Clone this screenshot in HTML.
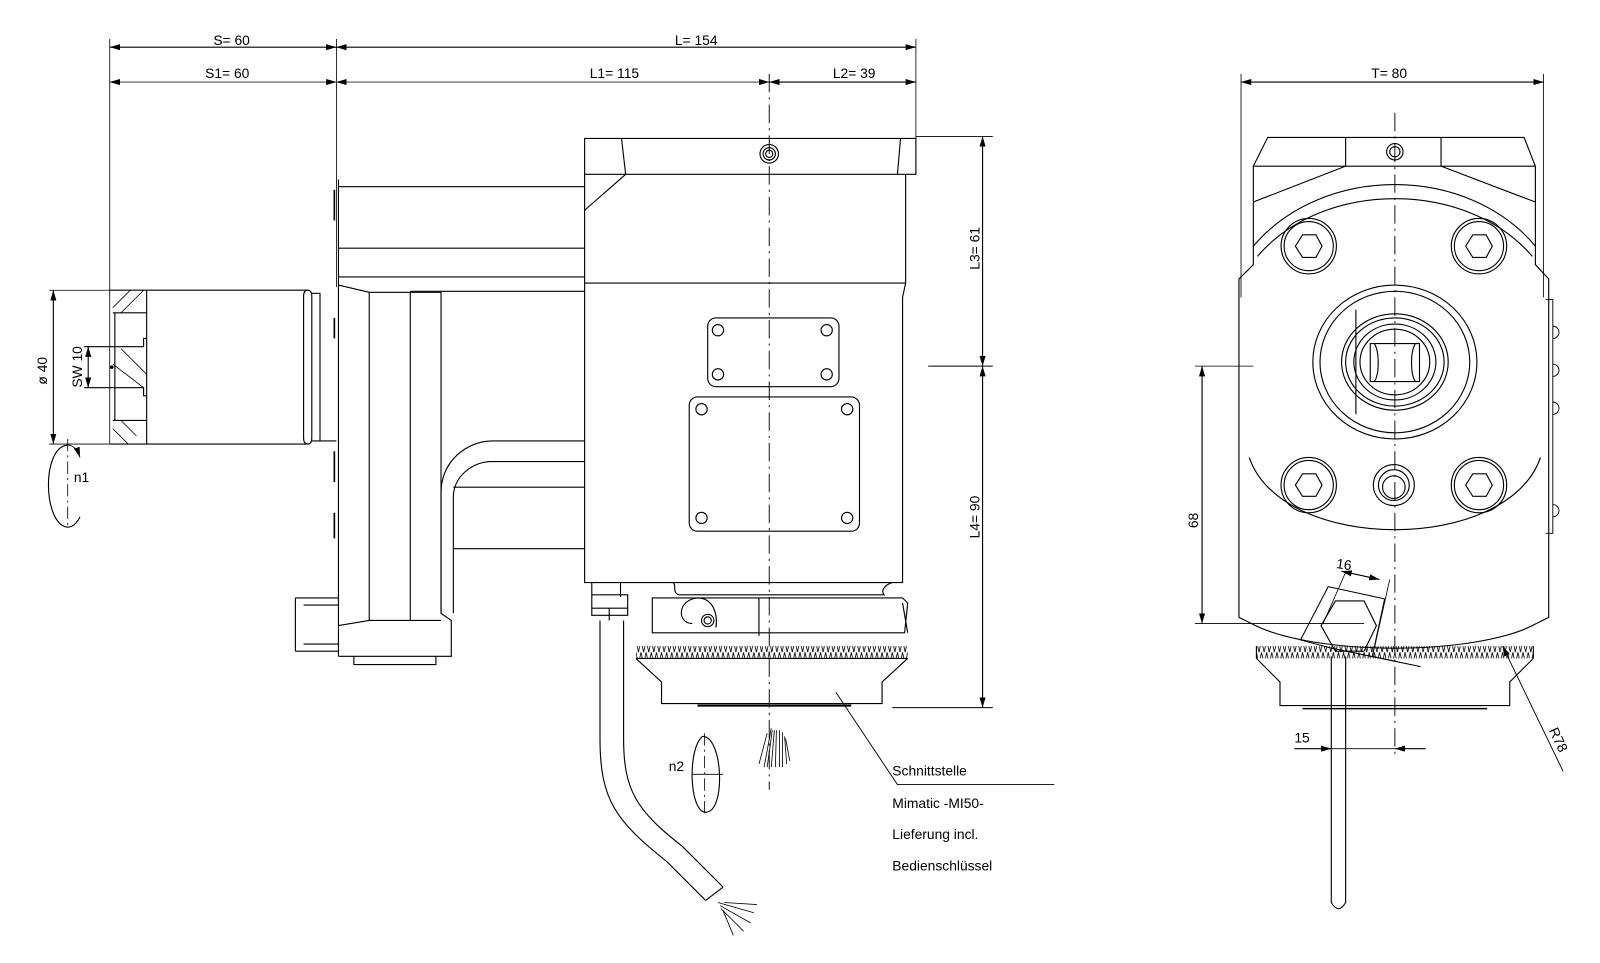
<!DOCTYPE html>
<html><head><meta charset="utf-8"><style>
html,body{margin:0;padding:0;background:#fff;}
svg{display:block;}
text{font-family:"Liberation Sans",sans-serif;font-size:13.5px;fill:#000;}
</style></head><body>
<svg width="1600" height="963" viewBox="0 0 1560 939" preserveAspectRatio="none" xmlns="http://www.w3.org/2000/svg">
<defs>
<marker id="a" viewBox="0 0 10 6" refX="10" refY="3" markerWidth="10" markerHeight="6" orient="auto-start-reverse" markerUnits="userSpaceOnUse"><path d="M0,0 L10,3 L0,6z" fill="#000"/></marker>
<pattern id="teeth" x="0" y="0" width="5" height="12" patternUnits="userSpaceOnUse"><path d="M0,0 L2.5,12 L5,0" fill="none" stroke="#000" stroke-width="0.8"/></pattern>
</defs>
<g fill="none" stroke="#000" stroke-width="1.1">
<line x1="107" y1="38" x2="107" y2="433" stroke-width="0.8"/>
<line x1="328" y1="38" x2="328" y2="280" stroke-width="0.8"/>
<line x1="893" y1="38" x2="893" y2="135" stroke-width="0.8"/>
<line x1="107" y1="46" x2="328" y2="46" marker-start="url(#a)" marker-end="url(#a)"/>
<line x1="328" y1="46" x2="893" y2="46" marker-start="url(#a)" marker-end="url(#a)"/>
<line x1="107" y1="80" x2="328" y2="80" marker-start="url(#a)" marker-end="url(#a)" stroke="#555"/>
<line x1="328" y1="80" x2="750" y2="80" marker-start="url(#a)" marker-end="url(#a)" stroke="#555"/>
<line x1="750" y1="80" x2="893" y2="80" marker-start="url(#a)" marker-end="url(#a)"/>
<line x1="750" y1="72" x2="750" y2="770" stroke-dasharray="18,5,2,5" stroke-width="0.9"/>

<path d="M107,283 H300 M107,433 H300 M143,283 V433"/>
<path d="M300,283 q-4,0 -4,6 V427 q0,6 4,6 M300,283 q4,0 4,6 V427 q0,6 -4,6 M304,286 H312 V430 H304 M312,286 V430 H328"/>
<path d="M110,305 H143 M110,410 H143 M112,305 V410 M112,338 H140 V330 H143 M112,378 H140 V386 H143 M82,338 H112 M82,378 H112"/>
<path d="M110,300 L127,283 M118,305 L140,283 M110,418 L125,433 M118,410 L133,425 M110,355 L140,378 M118,340 L143,365" stroke-width="0.8"/>
<line x1="48" y1="283" x2="107" y2="283" stroke-width="0.8"/>
<line x1="48" y1="433" x2="107" y2="433" stroke-width="0.8"/>
<line x1="52" y1="283" x2="52" y2="433" marker-start="url(#a)" marker-end="url(#a)"/>
<line x1="86" y1="338" x2="86" y2="378" marker-start="url(#a)" marker-end="url(#a)"/>
<circle cx="109" cy="358" r="1.2" fill="#000"/>
<path d="M66,434 C40,436 42,512 66,514 M66,514 C72,514 76,508 78,504" />
<path d="M66,434 C72,434 76,440 78,446" marker-end="url(#a)" stroke-width="0.9"/>
<line x1="66" y1="428" x2="66" y2="515" stroke-dasharray="12,4,2,4" stroke-width="0.8"/>

<path d="M330,182 H570 M330,242 H570 M330,270 H570 M400,284 H570"/>
<path d="M330,175 V640 M330,640 H440 V605 L430,598 V285 L360,285 L330,278"/>
<path d="M360,285 V605 H400 V285"/>
<path d="M330,610 L360,605 M400,605 H430"/>
<path d="M345,640 V648 H425 V640"/>
<path d="M288,583 H330 M288,635 H330 M288,583 V635 M296,590 H330 M296,628 H330"/>
<path d="M326,185 V215 M326,310 V330 M326,440 V470 M326,500 V525" stroke-width="1.6"/>
<path d="M570,430 H480 C455,430 430,450 430,480 V598"/>
<path d="M570,450 H480 C460,450 442,465 442,485 V598"/>
<path d="M442,475 H570 M442,535 H570"/>

<path d="M570,135 H875 L880,135 H893 V170 H570 Z"/>
<path d="M570,170 V568 H880 V290 L883,276 V170"/>
<path d="M606,135 L610,170 L570,205"/>
<path d="M878,135 L875,170"/>
<path d="M570,276 H883"/>
<circle cx="750" cy="150" r="9"/><circle cx="750" cy="150" r="6"/><circle cx="750" cy="150" r="3.5"/>
<rect x="690" y="310" width="128" height="67" rx="8"/>
<circle cx="700" cy="322" r="5.5"/><circle cx="806" cy="322" r="5.5"/><circle cx="700" cy="365" r="5.5"/><circle cx="806" cy="365" r="5.5"/>
<rect x="672" y="387" width="166" height="131" rx="8"/>
<circle cx="684" cy="399" r="5.5"/><circle cx="826" cy="399" r="5.5"/><circle cx="684" cy="505" r="5.5"/><circle cx="826" cy="505" r="5.5"/>
<path d="M577,568 V580 M605,568 V582 M577,580 V600 H612 V580 H577 M577,593 H612 M594,593 V605"/>
<path d="M656,568 C660,570 655,578 662,580 H862 C858,575 864,570 870,568"/>
<path d="M636,583 H880 L885,588 L882,617 H636 Z M740,583 V620 M880,588 L885,617"/>
<path d="M675,608 C660,608 660,585 680,583 C695,583 700,598 698,612"/>
<circle cx="690" cy="605" r="6"/><circle cx="690" cy="605" r="3.5"/>
<rect x="620" y="630" width="265" height="12" fill="url(#teeth)" stroke="none"/>
<path d="M620,642 H885 M620,642 L645,665 V686 H860 V665 L885,642"/>
<path d="M680,688 H830" stroke-width="2"/>
<path d="M585,605 V720 C585,780 600,800 650,840 L688,878"/>
<path d="M608,605 V720 C608,770 620,790 665,825 L705,865"/>
<path d="M688,878 L705,865"/>
<path d="M700,880 L735,890 M702,883 L732,900 M703,886 L725,908 M705,888 L715,912 M706,880 L738,882" stroke-width="0.8"/>
<path d="M745,748 L752,710 M748,748 L753,712 M752,748 L755,712 M756,748 L757,712 M760,748 L760,712 M763,748 L763,714 M767,745 L765,718 M740,745 L748,715 M770,742 L766,720" stroke-width="0.8"/>
<path d="M685,718 C705,718 708,792 688,792 C672,792 670,730 685,718"/>
<line x1="687" y1="715" x2="687" y2="795" stroke-dasharray="12,4,2,4" stroke-width="0.8"/>
<line x1="675" y1="755" x2="705" y2="755" stroke-width="0.8"/>
<path d="M815,675 L875,765 H1028" stroke-width="0.9"/>
<path d="M893,133 H968 M905,357 H968 M870,690 H968" stroke-width="0.9"/>
<line x1="958" y1="133" x2="958" y2="357" marker-start="url(#a)" marker-end="url(#a)"/>
<line x1="958" y1="357" x2="958" y2="690" marker-start="url(#a)" marker-end="url(#a)"/>

<path d="M1210,72 V290 M1505,72 V290" stroke-width="0.8"/>
<line x1="1210" y1="80" x2="1505" y2="80" marker-start="url(#a)" marker-end="url(#a)"/>
<path d="M1236,134 H1486 L1497,162 H1222 Z M1312,134 V162 M1405,134 V162"/>
<path d="M1222,162 V258 L1208,272 V602 L1220,608 M1497,162 V258 L1510,272 V602 L1498,608"/>
<path d="M1222,197 L1312,162 M1497,197 L1405,162"/>
<path d="M1220,608 C1280,640 1440,640 1498,608"/>
<path d="M1222,240 C1290,160 1430,160 1497,240 M1226,250 C1290,175 1430,175 1494,250"/>
<path d="M1218,446 C1250,540 1470,540 1502,446"/>
<circle cx="1360" cy="148" r="8"/><circle cx="1360" cy="148" r="5"/>
<g>
<circle cx="1276" cy="240" r="27"/><circle cx="1276" cy="240" r="24"/><path d="M1263,240 L1270,229 H1283 L1289,240 L1283,251 H1270Z"/>
<circle cx="1442" cy="240" r="27"/><circle cx="1442" cy="240" r="24"/><path d="M1429,240 L1436,229 H1449 L1455,240 L1449,251 H1436Z"/>
<circle cx="1276" cy="473" r="27"/><circle cx="1276" cy="473" r="24"/><path d="M1263,473 L1270,462 H1283 L1289,473 L1283,484 H1270Z"/>
<circle cx="1442" cy="473" r="27"/><circle cx="1442" cy="473" r="24"/><path d="M1429,473 L1436,462 H1449 L1455,473 L1449,484 H1436Z"/>
<circle cx="1359" cy="473" r="20"/><circle cx="1359" cy="473" r="15"/><circle cx="1359" cy="475" r="11"/>
</g>
<ellipse cx="1360" cy="353" rx="80" ry="75"/>
<ellipse cx="1360" cy="353" rx="73" ry="69"/>
<path d="M1322,302 V404"/>
<ellipse cx="1360" cy="353" rx="52" ry="47"/><ellipse cx="1360" cy="353" rx="48" ry="43"/><ellipse cx="1360" cy="353" rx="40" ry="37"/><ellipse cx="1360" cy="353" rx="34" ry="32"/>
<path d="M1336,335 H1384 V372 H1336 Z M1340,335 C1345,343 1345,365 1340,372 M1380,335 C1375,343 1375,365 1380,372"/>
<path d="M1507,292 H1514 V520 H1507 M1514,318 A5,5 0 0 1 1514,330 M1514,355 A5,5 0 0 1 1514,367 M1514,392 A5,5 0 0 1 1514,404 M1514,492 A5,5 0 0 1 1514,504" stroke-width="0.9"/>
<line x1="1360" y1="110" x2="1360" y2="735" stroke-dasharray="18,5,2,5" stroke-width="0.9"/>
<path d="M1295,572 L1350,584 L1338,640 L1385,650 L1298,632 L1268,624 Z" stroke-width="1"/>
<path d="M1302,586 L1330,586 L1342,610 L1330,635 L1302,635 L1288,610 Z"/>
<path d="M1298,640 V880 Q1305,892 1312,880 V640" />
<line x1="1312" y1="558" x2="1290" y2="608" stroke-width="0.8"/>
<line x1="1355" y1="565" x2="1340" y2="632" stroke-width="0.8"/>
<line x1="1308" y1="557" x2="1345" y2="565" marker-start="url(#a)" marker-end="url(#a)"/>
<rect x="1225" y="630" width="270" height="12" fill="url(#teeth)" stroke="none"/>
<path d="M1225,642 L1248,665 V688 H1472 V665 L1495,642 M1225,630 V642 M1495,630 V642"/>
<path d="M1270,691 H1450" stroke-width="1.5"/>
<path d="M1165,357 H1222 M1165,608 H1330" stroke-width="0.8"/>
<line x1="1172" y1="357" x2="1172" y2="608" marker-start="url(#a)" marker-end="url(#a)"/>
<line x1="1262" y1="730" x2="1298" y2="730" marker-end="url(#a)"/>
<line x1="1360" y1="730" x2="1390" y2="730" marker-start="url(#a)"/>
<line x1="1298" y1="730" x2="1360" y2="730" stroke-width="0.8"/>
<line x1="1465" y1="630" x2="1524" y2="752" marker-start="url(#a)" stroke-width="0.9"/>
</g>
<g>
<text x="208" y="44">S= 60</text>
<text x="658" y="44">L= 154</text>
<text x="200" y="76">S1= 60</text>
<text x="575" y="76">L1= 115</text>
<text x="812" y="76">L2= 39</text>
<text x="1337" y="76">T= 80</text>
<text transform="translate(46,375) rotate(-90)">ø 40</text>
<text transform="translate(80,378) rotate(-90)">SW 10</text>
<text x="72" y="470">n1</text>
<text x="652" y="752">n2</text>
<text transform="translate(955,263) rotate(-90)">L3= 61</text>
<text transform="translate(955,525) rotate(-90)">L4= 90</text>
<text transform="translate(1168,515) rotate(-90)">68</text>
<text x="1303" y="556" transform="rotate(8 1318 550)">16</text>
<text x="1262" y="724">15</text>
<text transform="translate(1510,712) rotate(65)">R78</text>
<text x="870" y="756">Schnittstelle</text>
<text x="870" y="788">Mimatic -MI50-</text>
<text x="870" y="818">Lieferung incl.</text>
<text x="870" y="849">Bedienschlüssel</text>
</g>
</svg>
</body></html>
